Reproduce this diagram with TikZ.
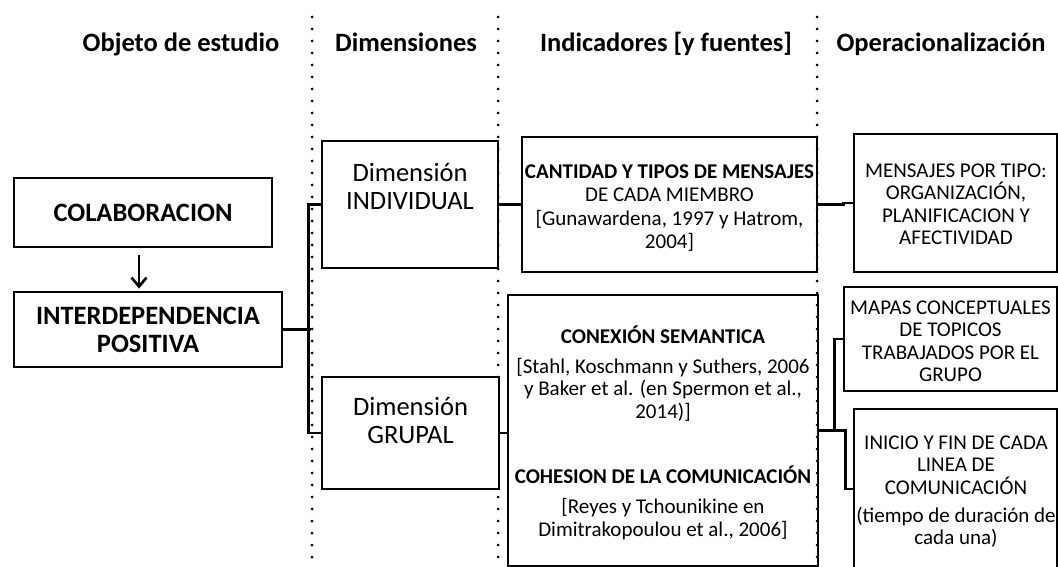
\documentclass[tikz,border=0pt]{standalone}
\usepackage{fontspec}
\setmainfont{Carlito}
\usetikzlibrary{arrows.meta,calc}
\newcommand\FBig{\fontsize{26.5}{28}\selectfont}
\newcommand\FSm{\fontsize{21}{22.5}\selectfont}
\newcommand\FSmW{\fontsize{21}{23.5}\selectfont}
\begin{document}
\begin{tikzpicture}[x=1pt,y=-1pt,
  box/.style={draw, line width=2.8pt, inner sep=0pt},
  conn/.style={line width=2.6pt},
  dots/.style={line width=3pt, line cap=round, dash pattern=on 0pt off 12pt},
  hdr/.style={font=\FBig\bfseries, inner sep=0pt, anchor=base},
  big/.style={font=\FBig, align=center, inner sep=0pt},
  sm/.style={font=\FSm, align=center, inner sep=0pt},
  sb/.style={font=\FSm\bfseries, align=center, inner sep=0pt}
]
\useasboundingbox (0,0) rectangle (1058,567);
\clip (0,0) rectangle (1058,567);

% headers
\node[hdr] (h1) at (181,52) {Objeto de estudio};
\node[hdr] (h2) at (406,52) {Dimensiones};
\node[hdr] (h3) at (666,52) {Indicadores [y fuentes]};
\node[hdr] (h4) at (941,52) {Operacionalización};

% dotted separators
\draw[dots] (312,17) -- (312,567);
\draw[dots] (498,17) -- (498,567);
\draw[dots] (817,17) -- (817,567);

% column 1
\node[box, minimum width=258pt, minimum height=69pt, font=\FBig\bfseries] (colab) at (143,212.5) {COLABORACION};
\node[box, minimum width=268pt, minimum height=75pt, font=\FBig\bfseries, align=center] (inter) at (148,329.5) {INTERDEPENDENCIA\\POSITIVA};

% column 2
\node[box, fill=white, minimum width=176pt, minimum height=127pt] (dimI) at (410,204.5) {};
\node[big] (dimIt) at (410,186.5) {Dimensión\\INDIVIDUAL};
\node[box, fill=white, minimum width=177pt, minimum height=112pt] (dimG) at (410.5,433) {};
\node[big] (dimGt) at (410.5,420.5) {Dimensión\\GRUPAL};

% column 3
\node[box, minimum width=295pt, minimum height=135pt] (ind1) at (669.5,204.5) {};
\node[sm, font=\FSmW] (ind1t) at (669.5,208) {\textbf{CANTIDAD Y TIPOS DE MENSAJES}\\DE CADA MIEMBRO\\{[}Gunawardena, 1997 y Hatrom,\\2004{]}};
\node[box, minimum width=310pt, minimum height=271pt] (ind2) at (663,430.5) {};
\node[sb] (con) at (663,335) {CONEXIÓN SEMANTICA};
\node[sm] (stahl) at (663,389.5) {{[}Stahl, Koschmann y Suthers, 2006\\y Baker et al. (en Spermon et al.,\\2014){]}};
\node[sb] (coh) at (663,475) {COHESION DE LA COMUNICACIÓN};
\node[sm] (reyes) at (663,519) {{[}Reyes y Tchounikine en\\Dimitrakopoulou et al., 2006{]}};

% column 4
\node[box, minimum width=203pt, minimum height=138pt] (op1) at (955.5,203) {};
\node[sm] (op1t) at (956,204.5) {MENSAJES POR TIPO:\\ORGANIZACIÓN,\\PLANIFICACION Y\\AFECTIVIDAD};
\node[box, minimum width=213pt, minimum height=104pt] (op2) at (950.5,339) {};
\node[sm] (op2t) at (950.5,341.5) {MAPAS CONCEPTUALES\\DE TOPICOS\\TRABAJADOS POR EL\\GRUPO};
\node[box, minimum width=203pt, minimum height=160pt] (op3) at (955.5,489) {};
\node[sm] (op3a) at (956,465) {INICIO Y FIN DE CADA\\LINEA DE\\COMUNICACIÓN};
\node[sm] (op3b) at (956,527.5) {(tiempo de duración de\\cada una)};

% connectors
\draw[conn, -{Straight Barb[length=9pt,width=15pt]}] ($(colab.south)+(-4,7)$) -- ($(inter.north)+(-9,-2)$);
\draw[conn] (dimI.west) -- ++(-12,0) |- (dimG.west);
\draw[conn] (inter.east) -- ++(28,0);
\draw[conn] (dimI.east) -- (ind1.west);
\draw[conn] (dimG.east) -- (dimG.east -| ind2.west);
\draw[conn] (ind1.east) -- ++(25,0) |- (op1.west);
\draw[conn] (ind2.east) -- ++(15,0) |- (op2.west);
\draw[conn] (ind2.east) -- ++(26,0) |- (op3.west);
\end{tikzpicture}
\end{document}
